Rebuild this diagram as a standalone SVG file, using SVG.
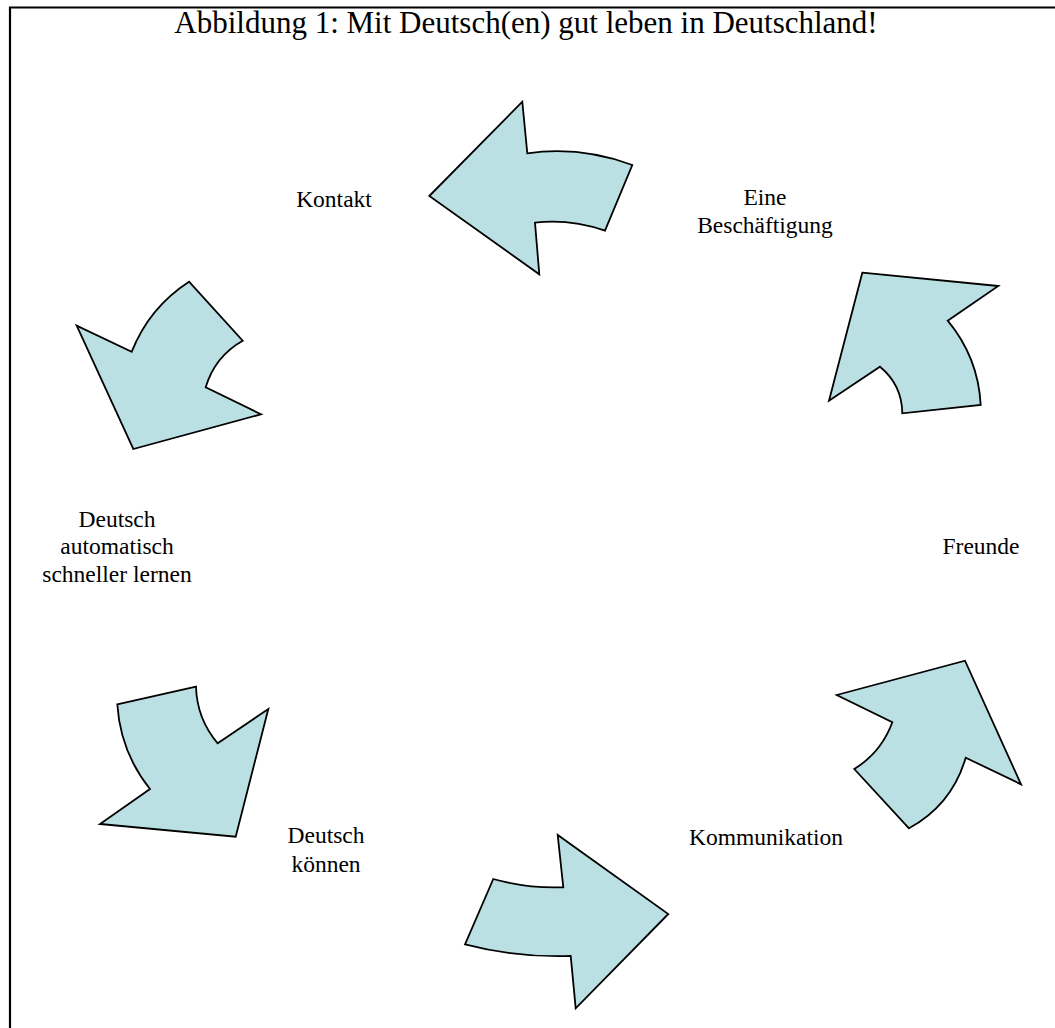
<svg xmlns="http://www.w3.org/2000/svg" width="1055" height="1028" viewBox="0 0 1055 1028">
<style>
.arrow{fill:#BBE0E3;stroke:#000;stroke-width:1.8;stroke-linejoin:miter}
.lbl{font-family:"Liberation Serif","Times New Roman",serif;font-size:23.5px;fill:#000;text-anchor:middle}
.title{font-family:"Liberation Serif","Times New Roman",serif;font-size:31px;fill:#000;text-anchor:middle}
</style>
<rect x="0" y="0" width="1055" height="1028" fill="#fff"/>
<path d="M10,1028 V7.5 H1055" fill="none" stroke="#000" stroke-width="2.2"/>
<g id="title"><text class="title" x="526" y="33">Abbildung 1: Mit Deutsch(en) gut leben in Deutschland!</text></g>
<g id="connectors">
<path class="arrow" d="M429.3,196 L522.3,101.7 L527.3,153.3 Q580.2,145.8 632.3,165 L605,230.7 Q570,218.7 535,222.7 L539.3,274.3 Z"/>
<path class="arrow" d="M862.3,272.7 L998.3,286 L947.7,320.7 Q978.2,357.4 980.7,405 L902.3,413.3 Q902,384.8 880,366.7 L829,400.7 Z"/>
<path class="arrow" d="M189,281.7 L242.7,340.7 Q214.8,356.5 205.7,387.3 L261,414.3 L133.3,449 L76.7,325.7 L131.7,351.7 Q149.2,307.6 189,281.7 Z"/>
<path class="arrow" d="M117.3,704.3 L196,686.7 Q196.9,718.8 217.7,743.3 L268.3,709 L235.7,836.7 L100,824 L150,789 Q120.3,751.9 117.3,704.3 Z"/>
<path class="arrow" d="M493.3,879 Q527.7,888.6 563.3,887.3 L557.7,835 L668.3,914 L575.7,1008.3 L570.7,956 Q517,957.8 465,944.3 Z"/>
<path class="arrow" d="M836.7,695 L965,660.7 L1021,784.3 L965.7,757.7 Q952,804.8 909,828.3 L854.3,769 Q881.4,752.3 892.3,722.3 Z"/>
</g>
<g id="node-kontakt"><text class="lbl" x="334" y="207">Kontakt</text></g>
<g id="node-beschaeftigung"><text class="lbl" x="765" y="205">Eine</text><text class="lbl" x="765" y="233">Beschäftigung</text></g>
<g id="node-freunde"><text class="lbl" x="981" y="554">Freunde</text></g>
<g id="node-kommunikation"><text class="lbl" x="766" y="845">Kommunikation</text></g>
<g id="node-deutsch-koennen"><text class="lbl" x="326" y="843">Deutsch</text><text class="lbl" x="326" y="872">können</text></g>
<g id="node-deutsch-lernen"><text class="lbl" x="117" y="527">Deutsch</text><text class="lbl" x="117" y="554">automatisch</text><text class="lbl" x="117" y="582">schneller lernen</text></g>
</svg>
